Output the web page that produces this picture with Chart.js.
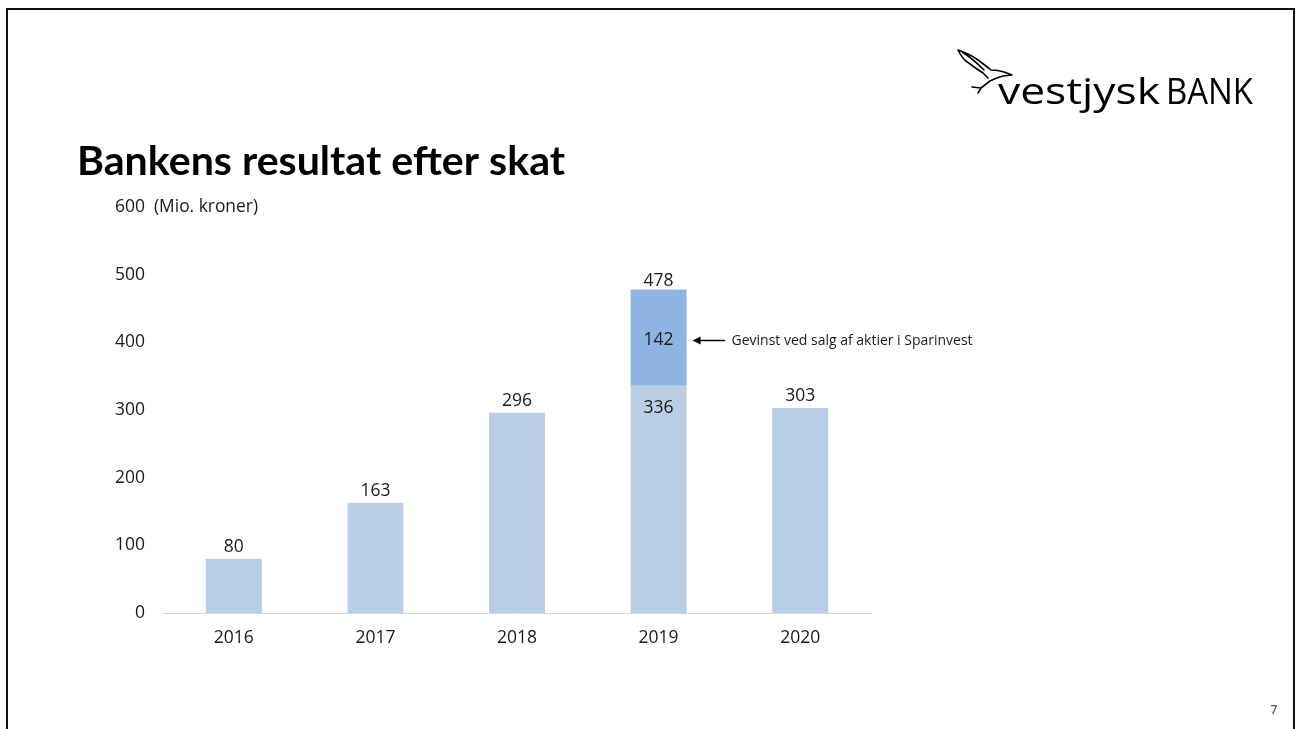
<!DOCTYPE html>
<html lang="da">
<head>
<meta charset="utf-8">
<title>Bankens resultat efter skat</title>
<script src="https://cdn.jsdelivr.net/npm/chart.js@4.4.1/dist/chart.umd.min.js"></script>
<style>
  html, body { margin: 0; padding: 0; background: #ffffff; }
  #wrap { position: relative; width: 1301px; height: 729px; overflow: hidden; }
  canvas { display: block; }
</style>
</head>
<body>
<div id="wrap"><canvas id="chart" width="1301" height="729"></canvas></div>
<script>
// Result after tax, DKK million
const years = ['2016', '2017', '2018', '2019', '2020'];
const baseResult = [80, 163, 296, 336, 303];
const sparinvestGain = [0, 0, 0, 142, 0];
const yTicks = [0, 100, 200, 300, 400, 500, 600];

const titleText = 'Bankens resultat efter skat';
const unitText = '(Mio. kroner)';
const noteText = 'Gevinst ved salg af aktier i Sparinvest';
const pageNumber = '7';

const FONT = '"Open Sans", "Noto Sans", sans-serif';
const TEXT = '#1a1a1a';
const LIGHT_BLUE = '#B9CDE5';
const MID_BLUE = '#8EB4E3';

// Draw text stretched or squeezed horizontally to an exact width
function fitText(ctx, text, x, y, width) {
  const w = ctx.measureText(text).width;
  ctx.save();
  ctx.translate(x, y);
  ctx.scale(width / w, 1);
  ctx.fillText(text, 0, 0);
  ctx.restore();
}

// Slide decoration: frame, title, logo, page number, unit label and note
const slidePlugin = {
  id: 'slide',
  beforeDraw(chart) {
    const ctx = chart.ctx;
    ctx.save();
    ctx.fillStyle = '#ffffff';
    ctx.fillRect(0, 0, chart.width, chart.height);
    ctx.restore();
  },
  afterDraw(chart) {
    const ctx = chart.ctx;
    const y = chart.scales.y;
    ctx.save();

    // frame
    ctx.strokeStyle = '#111';
    ctx.lineWidth = 2;
    ctx.beginPath();
    ctx.moveTo(7, 735);
    ctx.lineTo(7, 9);
    ctx.lineTo(1294, 9);
    ctx.lineTo(1294, 735);
    ctx.stroke();

    // title
    ctx.fillStyle = '#000';
    ctx.textBaseline = 'alphabetic';
    ctx.textAlign = 'left';
    ctx.font = 'bold 40px Lato, ' + FONT;
    fitText(ctx, titleText, 77, 175, 488);

    // unit label next to the top tick
    ctx.fillStyle = TEXT;
    ctx.font = '17.5px ' + FONT;
    ctx.textBaseline = 'middle';
    fitText(ctx, unitText, 154, y.getPixelForValue(600), 104);

    // page number
    ctx.fillStyle = '#595959';
    ctx.font = '600 12px ' + FONT;
    ctx.textAlign = 'center';
    ctx.fillText(pageNumber, 1274, 711);

    // logo text
    ctx.fillStyle = '#000';
    ctx.textAlign = 'left';
    ctx.textBaseline = 'alphabetic';
    ctx.font = '400 37px "Open Sans", ' + FONT;
    fitText(ctx, 'vestjysk', 998, 104, 162);
    fitText(ctx, 'BANK', 1166, 104, 87);

    // logo bird (outline)
    ctx.strokeStyle = '#000';
    ctx.lineWidth = 1.6;
    ctx.lineJoin = 'round';
    ctx.lineCap = 'round';
    ctx.beginPath();
    // upper wing edge to head
    ctx.moveTo(958, 50);
    ctx.quadraticCurveTo(970, 54, 978, 60);
    ctx.quadraticCurveTo(986, 66, 991, 70);
    ctx.quadraticCurveTo(998, 70, 1004, 72);
    ctx.lineTo(1012, 75);
    // underside back to tail
    ctx.lineTo(1003, 76);
    ctx.quadraticCurveTo(996, 78, 990, 81);
    ctx.lineTo(981, 88);
    ctx.lineTo(972, 87);
    ctx.moveTo(981, 88);
    ctx.lineTo(978, 93);
    // lower wing edge
    ctx.moveTo(958, 50);
    ctx.quadraticCurveTo(962, 58, 966, 61);
    ctx.quadraticCurveTo(975, 68, 983, 73);
    ctx.lineTo(988, 78);
    ctx.moveTo(962, 52);
    ctx.quadraticCurveTo(972, 58, 984, 70);
    ctx.stroke();

    // note arrow for the Sparinvest gain
    const i = 3;
    const meta = chart.getDatasetMeta(1).data[i];
    const midY = y.getPixelForValue(baseResult[i] + sparinvestGain[i] / 2) + 3;
    const ax0 = meta.x + meta.width / 2 + 6;
    const ax1 = ax0 + 32;
    ctx.strokeStyle = '#000';
    ctx.fillStyle = '#000';
    ctx.lineWidth = 1.5;
    ctx.beginPath();
    ctx.moveTo(ax0 + 6, midY);
    ctx.lineTo(ax1, midY);
    ctx.stroke();
    ctx.beginPath();
    ctx.moveTo(ax0, midY);
    ctx.lineTo(ax0 + 8, midY - 4);
    ctx.lineTo(ax0 + 8, midY + 4);
    ctx.closePath();
    ctx.fill();
    ctx.fillStyle = TEXT;
    ctx.font = '14px ' + FONT;
    ctx.textAlign = 'left';
    ctx.textBaseline = 'middle';
    fitText(ctx, noteText, ax1 + 7, midY, 241);

    ctx.restore();
  }
};

// Value labels: above single bars; for the split bar, inside each segment plus the total on top
const valueLabels = {
  id: 'valueLabels',
  afterDatasetsDraw(chart) {
    const ctx = chart.ctx;
    const y = chart.scales.y;
    ctx.save();
    ctx.fillStyle = TEXT;
    ctx.font = '17.5px ' + FONT;
    ctx.textAlign = 'center';
    ctx.textBaseline = 'middle';
    chart.getDatasetMeta(0).data.forEach((bar, i) => {
      const base = baseResult[i];
      const gain = sparinvestGain[i];
      const x = bar.x;
      if (gain > 0) {
        const total = base + gain;
        ctx.fillText(String(base), x, y.getPixelForValue(base) + 22);
        ctx.fillText(String(gain), x, y.getPixelForValue(base + gain / 2) + 2);
        ctx.fillText(String(total), x, y.getPixelForValue(total) - 9);
      } else {
        ctx.fillText(String(base), x, y.getPixelForValue(base) - 12);
      }
    });
    ctx.restore();
  }
};

new Chart(document.getElementById('chart'), {
  type: 'bar',
  data: {
    labels: years,
    datasets: [
      { label: 'Resultat', data: baseResult, backgroundColor: LIGHT_BLUE, borderWidth: 0 },
      { label: 'Gevinst Sparinvest', data: sparinvestGain, backgroundColor: MID_BLUE, borderWidth: 0 }
    ]
  },
  options: {
    responsive: false,
    animation: false,
    devicePixelRatio: 1,
    barPercentage: 0.395,
    categoryPercentage: 1,
    layout: { padding: { left: 0, top: 207, right: 430, bottom: 0 } },
    plugins: { legend: { display: false }, tooltip: { enabled: false }, title: { display: false } },
    scales: {
      x: {
        stacked: true,
        grid: { display: false, drawTicks: false },
        border: { display: true, color: '#D9D9D9', width: 1 },
        ticks: { color: TEXT, font: { family: FONT, size: 17.5 }, padding: 15 },
        afterFit(scale) { scale.height = 116; }
      },
      y: {
        stacked: true,
        min: 0,
        max: 600,
        grid: { display: false, drawTicks: false },
        border: { display: false },
        afterBuildTicks(scale) { scale.ticks = yTicks.map(v => ({ value: v })); },
        ticks: { color: TEXT, font: { family: FONT, size: 17.5 }, padding: 18 },
        afterFit(scale) { scale.width = 163; }
      }
    }
  },
  plugins: [slidePlugin, valueLabels]
});
</script>
</body>
</html>
